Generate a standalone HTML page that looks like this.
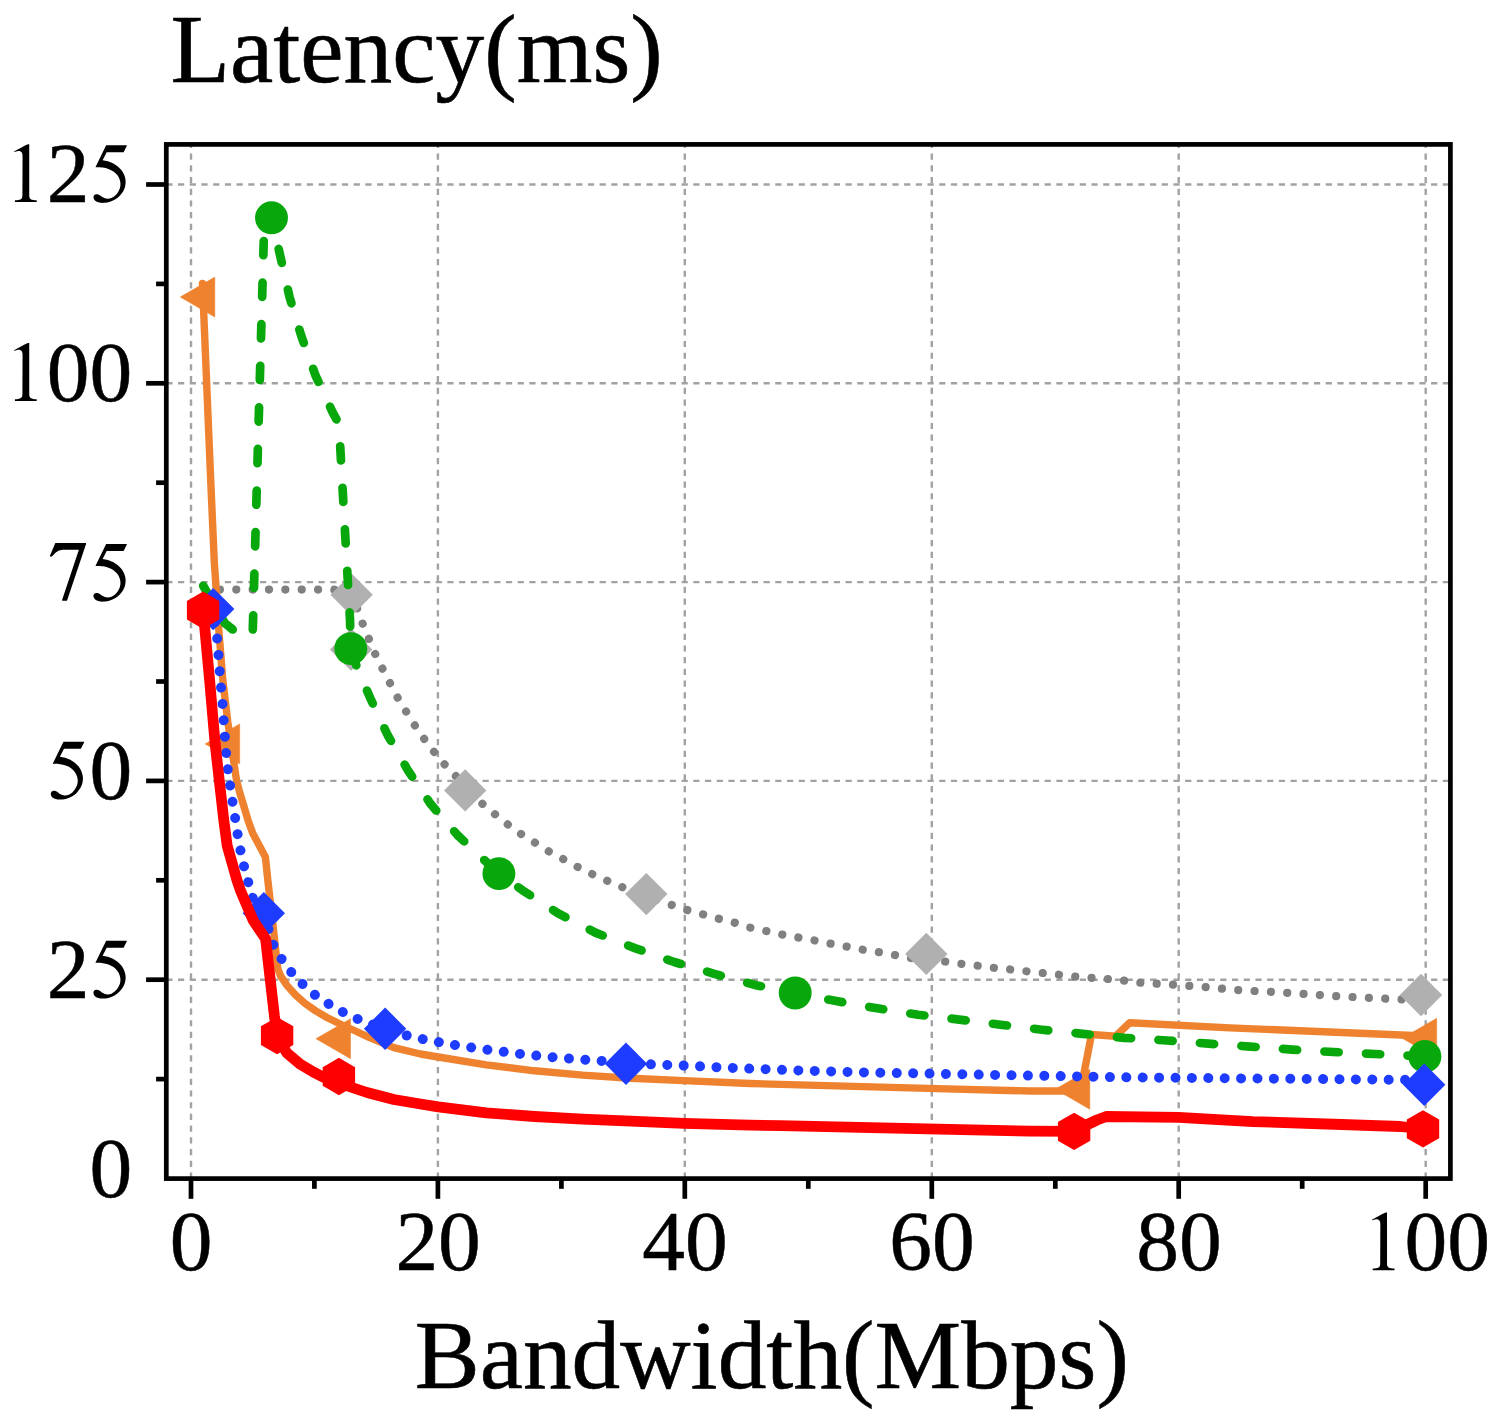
<!DOCTYPE html>
<html><head><meta charset="utf-8"><title>Latency vs Bandwidth</title>
<style>html,body{margin:0;padding:0;background:#fff;}body{width:1495px;height:1424px;overflow:hidden;}svg{display:block;}text{font-family:"Liberation Serif",serif;fill:#000;}</style>
</head><body>
<svg width="1495" height="1424" viewBox="0 0 1495 1424">
<rect x="0" y="0" width="1495" height="1424" fill="#ffffff"/>
<g stroke="#a2a2a2" stroke-width="2.4" stroke-dasharray="6.2 5.511" fill="none">
<line x1="191.0" y1="1178.6" x2="191.0" y2="144.4"/>
<line x1="437.9" y1="1178.6" x2="437.9" y2="144.4"/>
<line x1="684.8" y1="1178.6" x2="684.8" y2="144.4"/>
<line x1="931.8" y1="1178.6" x2="931.8" y2="144.4"/>
<line x1="1178.7" y1="1178.6" x2="1178.7" y2="144.4"/>
<line x1="1425.7" y1="1178.6" x2="1425.7" y2="144.4"/>
<line x1="166.3" y1="979.7" x2="1450.4" y2="979.7"/>
<line x1="166.3" y1="780.9" x2="1450.4" y2="780.9"/>
<line x1="166.3" y1="582.1" x2="1450.4" y2="582.1"/>
<line x1="166.3" y1="383.3" x2="1450.4" y2="383.3"/>
<line x1="166.3" y1="184.5" x2="1450.4" y2="184.5"/>
</g>
<g fill="none" stroke-linejoin="round">
<path d="M203.7 589.6 L333.8 589.6 L351.2 594.0" stroke-dasharray="0.01 16.35" stroke-dashoffset="0.14" stroke="#808080" stroke-width="8.2" stroke-linecap="round"/>
<path d="M351.2 594.0 L357.4 609.1 L362.7 623.8 L369.0 639.2 L375.4 654.4 L382.7 669.1 L390.1 683.3 L397.6 697.6 L406.3 711.8 L415.1 725.9 L424.9 739.9 L435.0 753.1 L445.2 765.2 L456.0 776.3 L465.2 786.0" stroke-dasharray="0.01 16.35" stroke-dashoffset="0.87" stroke="#808080" stroke-width="8.2" stroke-linecap="round"/>
<path d="M465.2 786.0 L480.6 802.2 L493.4 813.0 L506.1 823.2 L519.9 833.3 L534.7 842.5 L548.8 851.4 L563.6 859.2 L577.9 867.1 L593.2 874.6 L608.8 881.4 L624.6 888.1 L646.3 896.5" stroke-dasharray="0.01 16.35" stroke-dashoffset="7.94" stroke="#808080" stroke-width="8.2" stroke-linecap="round"/>
<path d="M646.3 896.5 L670.8 904.7 L686.0 909.7 L702.2 914.1 L718.0 918.5 L733.9 922.5 L750.1 927.6 L765.9 931.0 L782.3 934.6 L798.4 937.5 L814.4 940.4 L830.4 943.6 L846.8 946.6 L862.8 949.7 L879.0 952.1 L895.3 955.1 L910.6 958.0 L926.3 959.5" stroke-dasharray="0.01 16.35" stroke-dashoffset="5.89" stroke="#808080" stroke-width="8.2" stroke-linecap="round"/>
<path d="M926.3 959.5 L944.3 961.4 L960.5 963.8 L976.8 965.6 L993.1 967.7 L1009.3 969.4 L1025.8 971.2 L1041.7 972.9 L1058.2 974.6 L1074.4 976.6 L1090.9 977.8 L1106.9 978.9 L1124.1 980.6 L1139.8 982.7 L1173.0 984.7 L1205.7 987.1 L1238.1 990.1 L1287.3 992.8 L1336.4 996.2 L1385.6 998.7 L1401.6 999.4 L1421.0 1000.5" stroke-dasharray="0.01 16.35" stroke-dashoffset="13.70" stroke="#808080" stroke-width="8.2" stroke-linecap="round"/>
</g>
<g fill="#b0b0b0">
<polygon points="351.6,573.6 372.8,594.8 351.6,616.0 330.4,594.8"/>
<polygon points="351.1,628.3 372.3,649.5 351.1,670.7 329.9,649.5"/>
<polygon points="465.2,769.2 486.4,790.4 465.2,811.6 444.0,790.4"/>
<polygon points="646.3,872.9 667.5,894.1 646.3,915.3 625.1,894.1"/>
<polygon points="926.3,932.7 947.5,953.9 926.3,975.1 905.1,953.9"/>
<polygon points="1421.0,973.8 1442.2,995.0 1421.0,1016.2 1399.8,995.0"/>
</g>
<path d="M202.5 283.5 L210.7 480.0 L214.2 560.0 L218.7 628.5 L222.8 680.0 L227.8 722.0 L234.1 764.3 L236.6 780.6 L239.7 792.4 L248.1 820.4 L252.6 833.1 L265.4 857.0 L267.8 880.0 L273.7 931.6 L277.1 963.2 L277.8 968.8 L280.6 975.9 L286.9 985.4 L295.3 994.8 L304.8 1003.3 L315.3 1010.6 L326.9 1017.5 L339.6 1023.8 L355.4 1031.0 L368.5 1037.2 L393.8 1047.6 L420.5 1054.0 L438.2 1057.0 L486.3 1064.8 L534.5 1070.8 L582.6 1075.1 L630.8 1078.2 L683.8 1080.6 L750.0 1083.5 L927.5 1088.4 L1030.0 1091.0 L1080.5 1091.0 L1091.5 1034.5 L1115.6 1036.2 L1129.7 1022.8 L1230.0 1027.9 L1425.0 1036.0" fill="none" stroke="#ee822f" stroke-width="7.4" stroke-linejoin="round" stroke-linecap="round"/>
<g fill="#ee822f" stroke="#ee822f" stroke-width="0.5" stroke-linejoin="round">
<polygon points="180.2,297.1 214.8,277.1 214.8,317.1"/>
<polygon points="205.1,743.9 239.7,723.9 239.7,763.9"/>
<polygon points="315.9,1038.7 350.5,1018.7 350.5,1058.7"/>
<polygon points="1055.2,1089.3 1089.8,1069.3 1089.8,1109.3"/>
<polygon points="1402.1,1038.2 1436.7,1018.2 1436.7,1058.2"/>
</g>
<path d="M203.2 585.8 L224.8 623.2 L232.7 629.5 L252.6 636.5" stroke-dasharray="14.2 27.4" stroke-dashoffset="2.49" fill="none" stroke="#08a80c" stroke-width="8.7" stroke-linejoin="round" stroke-linecap="round"/>
<path d="M252.6 636.5 L264.2 224.0 L271.5 217.8" stroke-dasharray="14.2 27.4" stroke-dashoffset="34.59" fill="none" stroke="#08a80c" stroke-width="8.7" stroke-linejoin="round" stroke-linecap="round"/>
<path d="M271.5 217.8 L280.3 256.2 L289.6 297.2 L301.4 336.3 L315.6 375.7 L332.9 412.8 L339.0 424.0" stroke-dasharray="14.2 27.4" stroke-dashoffset="9.62" fill="none" stroke="#08a80c" stroke-width="8.7" stroke-linejoin="round" stroke-linecap="round"/>
<path d="M339.0 424.0 L340.6 453.8 L350.0 619.6 L350.8 648.6" stroke-dasharray="14.2 27.4" stroke-dashoffset="19.33" fill="none" stroke="#08a80c" stroke-width="8.7" stroke-linejoin="round" stroke-linecap="round"/>
<path d="M350.8 648.6 L356.7 666.5 L369.9 697.4 L387.6 735.0 L408.2 770.8 L430.8 804.2 L457.4 835.0 L498.9 873.6" stroke-dasharray="14.2 27.4" stroke-dashoffset="38.19" fill="none" stroke="#08a80c" stroke-width="8.7" stroke-linejoin="round" stroke-linecap="round"/>
<path d="M498.9 873.6 L522.5 890.3 L558.2 913.4 L595.3 932.6 L634.8 948.1 L674.2 962.0 L714.3 973.8 L754.8 984.9 L795.2 993.0" stroke-dasharray="14.2 27.4" stroke-dashoffset="17.86" fill="none" stroke="#08a80c" stroke-width="8.7" stroke-linejoin="round" stroke-linecap="round"/>
<path d="M795.2 993.0 L836.3 1001.1 L877.1 1008.3 L918.1 1014.7 L959.2 1019.6 L1000.4 1024.7 L1041.7 1029.7 L1082.8 1033.8 L1124.0 1037.8 L1166.9 1040.5 L1208.6 1043.7 L1250.4 1046.6 L1292.2 1049.6 L1333.2 1052.0 L1374.5 1054.0 L1424.9 1056.4" stroke-dasharray="14.2 27.4" stroke-dashoffset="7.88" fill="none" stroke="#08a80c" stroke-width="8.7" stroke-linejoin="round" stroke-linecap="round"/>
<g fill="#08a80c">
<circle cx="271.5" cy="217.8" r="16.45"/>
<circle cx="350.8" cy="648.6" r="16.45"/>
<circle cx="498.9" cy="873.6" r="16.45"/>
<circle cx="795.2" cy="993.0" r="16.45"/>
<circle cx="1424.9" cy="1056.4" r="16.45"/>
</g>
<path d="M213.2 609.1 L217.2 638.5 L218.5 655.1 L219.7 671.5 L221.1 688.0 L222.6 704.2 L223.7 720.4 L224.9 736.9 L226.1 753.0 L227.8 769.5 L230.1 785.6 L232.5 801.9 L235.2 818.3 L237.6 834.1 L240.6 851.0 L244.0 866.3 L248.2 882.1 L252.2 897.1 L263.8 913.2" stroke-dasharray="0.01 16.39" stroke-dashoffset="3.09" fill="none" stroke="#1e3cff" stroke-width="10" stroke-linejoin="round" stroke-linecap="round"/>
<path d="M263.8 913.2 L272.8 943.6 L280.0 956.7 L290.3 971.1 L301.9 983.4 L314.9 994.8 L329.5 1004.5 L344.4 1012.9 L359.8 1019.9 L385.1 1028.7" stroke-dasharray="0.01 16.39" stroke-dashoffset="16.25" fill="none" stroke="#1e3cff" stroke-width="10" stroke-linejoin="round" stroke-linecap="round"/>
<path d="M385.1 1028.7 L406.4 1035.4 L422.5 1039.0 L438.9 1042.1 L454.5 1045.0 L471.1 1047.4 L487.5 1049.8 L503.7 1051.8 L520.0 1053.9 L536.4 1055.6 L553.0 1057.3 L568.7 1058.5 L585.0 1059.7 L601.4 1060.9 L626.0 1063.8" stroke-dasharray="0.01 16.39" stroke-dashoffset="10.15" fill="none" stroke="#1e3cff" stroke-width="10" stroke-linejoin="round" stroke-linecap="round"/>
<path d="M626.0 1063.8 L650.5 1064.3 L683.8 1065.5 L716.3 1067.2 L748.8 1068.6 L798.4 1070.4 L863.6 1072.4 L929.4 1073.6 L995.0 1074.9 L1060.2 1076.1 L1124.0 1077.3 L1230.0 1078.3 L1404.8 1079.8 L1424.2 1084.7" stroke-dasharray="0.01 16.39" stroke-dashoffset="7.90" fill="none" stroke="#1e3cff" stroke-width="10" stroke-linejoin="round" stroke-linecap="round"/>
<g fill="#1e3cff">
<polygon points="213.2,587.9 234.4,609.1 213.2,630.3 192.0,609.1"/>
<polygon points="263.8,892.0 285.0,913.2 263.8,934.4 242.6,913.2"/>
<polygon points="385.1,1007.5 406.3,1028.7 385.1,1049.9 363.9,1028.7"/>
<polygon points="626.0,1042.6 647.2,1063.8 626.0,1085.0 604.8,1063.8"/>
<polygon points="1424.2,1063.5 1445.4,1084.7 1424.2,1105.9 1403.0,1084.7"/>
</g>
<path d="M203.1 610.3 L209.6 680.0 L215.1 743.2 L219.3 780.6 L223.8 820.4 L227.2 845.7 L236.9 880.0 L240.4 890.4 L253.1 920.2 L265.6 938.8 L274.4 1015.9 L277.1 1035.6 L286.8 1052.8 L300.1 1064.2 L313.5 1072.2 L322.9 1076.9 L338.8 1083.0 L355.0 1088.5 L367.0 1092.5 L393.8 1099.5 L420.5 1104.0 L438.2 1106.9 L486.3 1112.9 L534.5 1116.5 L582.6 1119.2 L630.8 1121.1 L683.8 1123.3 L750.0 1125.2 L780.0 1125.7 L1030.0 1131.1 L1074.1 1131.4 L1087.5 1124.5 L1097.0 1120.0 L1106.3 1116.5 L1178.5 1117.3 L1252.9 1121.6 L1326.6 1124.0 L1400.3 1126.5 L1423.0 1128.9" fill="none" stroke="#ff0000" stroke-width="10.8" stroke-linejoin="round" stroke-linecap="butt"/>
<g fill="#ff0000">
<polygon points="203.1,591.6 186.9,600.9 186.9,619.6 203.1,629.0 219.3,619.6 219.3,600.9"/>
<polygon points="277.1,1016.9 260.9,1026.2 260.9,1044.9 277.1,1054.3 293.3,1044.9 293.3,1026.2"/>
<polygon points="338.9,1057.8 322.7,1067.2 322.7,1085.8 338.9,1095.2 355.1,1085.8 355.1,1067.2"/>
<polygon points="1074.1,1112.7 1057.9,1122.1 1057.9,1140.8 1074.1,1150.1 1090.3,1140.8 1090.3,1122.1"/>
<polygon points="1423.0,1110.2 1406.8,1119.6 1406.8,1138.2 1423.0,1147.6 1439.2,1138.2 1439.2,1119.6"/>
</g>
<rect x="166.3" y="144.4" width="1284.1" height="1034.2" fill="none" stroke="#000" stroke-width="4.7"/>
<g stroke="#000" stroke-width="4.7" fill="none">
<line x1="191.0" y1="1178.6" x2="191.0" y2="1198.8"/>
<line x1="437.9" y1="1178.6" x2="437.9" y2="1198.8"/>
<line x1="684.8" y1="1178.6" x2="684.8" y2="1198.8"/>
<line x1="931.8" y1="1178.6" x2="931.8" y2="1198.8"/>
<line x1="1178.7" y1="1178.6" x2="1178.7" y2="1198.8"/>
<line x1="1425.7" y1="1178.6" x2="1425.7" y2="1198.8"/>
<line x1="314.4" y1="1178.6" x2="314.4" y2="1188.8"/>
<line x1="561.4" y1="1178.6" x2="561.4" y2="1188.8"/>
<line x1="808.3" y1="1178.6" x2="808.3" y2="1188.8"/>
<line x1="1055.3" y1="1178.6" x2="1055.3" y2="1188.8"/>
<line x1="1302.2" y1="1178.6" x2="1302.2" y2="1188.8"/>
<line x1="166.3" y1="979.7" x2="146.1" y2="979.7"/>
<line x1="166.3" y1="780.9" x2="146.1" y2="780.9"/>
<line x1="166.3" y1="582.1" x2="146.1" y2="582.1"/>
<line x1="166.3" y1="383.3" x2="146.1" y2="383.3"/>
<line x1="166.3" y1="184.5" x2="146.1" y2="184.5"/>
<line x1="166.3" y1="1079.1" x2="156.1" y2="1079.1"/>
<line x1="166.3" y1="880.3" x2="156.1" y2="880.3"/>
<line x1="166.3" y1="681.5" x2="156.1" y2="681.5"/>
<line x1="166.3" y1="482.7" x2="156.1" y2="482.7"/>
<line x1="166.3" y1="283.9" x2="156.1" y2="283.9"/>
</g>
<g font-size="85.5px" fill="#000">
<text x="89.45" y="1196.90" stroke="#000" stroke-width="0.5" stroke-linejoin="round">0</text>
<text x="46.75" y="997.64" stroke="#000" stroke-width="0.5" stroke-linejoin="round">2</text>
<path transform="translate(89.60 997.64)" d="M16.55 -56.83 L37.03 -56.83 L37.28 -56.32 L33.99 -49.90 L17.06 -49.90 L13.01 -41.81 C14.78 -41.51 16.59 -41.39 18.32 -40.90 C20.05 -40.41 21.78 -39.72 23.38 -38.88 C24.98 -38.04 26.49 -37.02 27.93 -35.84 C29.36 -34.66 30.83 -33.32 31.97 -31.80 C33.11 -30.28 34.08 -28.51 34.75 -26.74 C35.43 -24.97 35.89 -23.04 36.02 -21.18 C36.14 -19.33 35.93 -17.39 35.51 -15.62 C35.09 -13.85 34.42 -12.17 33.49 -10.57 C32.56 -8.97 31.30 -7.36 29.95 -6.02 C28.60 -4.67 27.00 -3.45 25.40 -2.48 C23.80 -1.51 22.03 -0.75 20.34 -0.20 C18.66 0.35 16.89 0.64 15.29 0.81 C13.69 0.98 12.09 0.98 10.74 0.81 C9.39 0.64 8.17 0.26 7.20 -0.20 C6.23 -0.67 5.47 -1.30 4.92 -1.97 C4.38 -2.65 4.04 -3.53 3.91 -4.25 C3.79 -4.96 3.87 -5.72 4.17 -6.27 C4.46 -6.82 5.09 -7.28 5.68 -7.53 C6.27 -7.79 7.03 -7.87 7.70 -7.79 C8.38 -7.70 8.97 -7.45 9.73 -7.03 C10.49 -6.61 11.33 -5.81 12.25 -5.26 C13.18 -4.71 14.28 -4.08 15.29 -3.74 C16.30 -3.40 17.23 -3.19 18.32 -3.24 C19.42 -3.28 20.68 -3.49 21.86 -3.99 C23.04 -4.50 24.35 -5.34 25.40 -6.27 C26.45 -7.20 27.38 -8.33 28.18 -9.56 C28.98 -10.78 29.76 -12.17 30.20 -13.60 C30.65 -15.03 30.90 -16.63 30.86 -18.15 C30.82 -19.67 30.48 -21.23 29.95 -22.70 C29.42 -24.17 28.69 -25.69 27.67 -27.00 C26.66 -28.30 25.36 -29.52 23.88 -30.54 C22.41 -31.55 20.60 -32.41 18.83 -33.06 C17.06 -33.71 15.04 -34.13 13.27 -34.43 C11.50 -34.72 9.39 -34.78 8.21 -34.83 C7.03 -34.88 6.86 -34.77 6.19 -34.73 L5.94 -35.09 L16.55 -56.83Z"/>
<path transform="translate(46.90 798.65)" d="M16.55 -56.83 L37.03 -56.83 L37.28 -56.32 L33.99 -49.90 L17.06 -49.90 L13.01 -41.81 C14.78 -41.51 16.59 -41.39 18.32 -40.90 C20.05 -40.41 21.78 -39.72 23.38 -38.88 C24.98 -38.04 26.49 -37.02 27.93 -35.84 C29.36 -34.66 30.83 -33.32 31.97 -31.80 C33.11 -30.28 34.08 -28.51 34.75 -26.74 C35.43 -24.97 35.89 -23.04 36.02 -21.18 C36.14 -19.33 35.93 -17.39 35.51 -15.62 C35.09 -13.85 34.42 -12.17 33.49 -10.57 C32.56 -8.97 31.30 -7.36 29.95 -6.02 C28.60 -4.67 27.00 -3.45 25.40 -2.48 C23.80 -1.51 22.03 -0.75 20.34 -0.20 C18.66 0.35 16.89 0.64 15.29 0.81 C13.69 0.98 12.09 0.98 10.74 0.81 C9.39 0.64 8.17 0.26 7.20 -0.20 C6.23 -0.67 5.47 -1.30 4.92 -1.97 C4.38 -2.65 4.04 -3.53 3.91 -4.25 C3.79 -4.96 3.87 -5.72 4.17 -6.27 C4.46 -6.82 5.09 -7.28 5.68 -7.53 C6.27 -7.79 7.03 -7.87 7.70 -7.79 C8.38 -7.70 8.97 -7.45 9.73 -7.03 C10.49 -6.61 11.33 -5.81 12.25 -5.26 C13.18 -4.71 14.28 -4.08 15.29 -3.74 C16.30 -3.40 17.23 -3.19 18.32 -3.24 C19.42 -3.28 20.68 -3.49 21.86 -3.99 C23.04 -4.50 24.35 -5.34 25.40 -6.27 C26.45 -7.20 27.38 -8.33 28.18 -9.56 C28.98 -10.78 29.76 -12.17 30.20 -13.60 C30.65 -15.03 30.90 -16.63 30.86 -18.15 C30.82 -19.67 30.48 -21.23 29.95 -22.70 C29.42 -24.17 28.69 -25.69 27.67 -27.00 C26.66 -28.30 25.36 -29.52 23.88 -30.54 C22.41 -31.55 20.60 -32.41 18.83 -33.06 C17.06 -33.71 15.04 -34.13 13.27 -34.43 C11.50 -34.72 9.39 -34.78 8.21 -34.83 C7.03 -34.88 6.86 -34.77 6.19 -34.73 L5.94 -35.09 L16.55 -56.83Z"/>
<text x="89.45" y="798.65" stroke="#000" stroke-width="0.5" stroke-linejoin="round">0</text>
<path transform="translate(46.90 600.80)" d="M8.46 -57.89 L39.05 -57.89 L39.15 -56.88 L20.09 0.00 L15.29 0.00 L15.19 -0.76 L31.97 -50.96 C27.42 -50.96 21.19 -50.99 18.32 -50.96 C15.46 -50.94 15.88 -50.96 14.78 -50.81 C13.69 -50.66 12.68 -50.43 11.75 -50.05 C10.82 -49.67 10.02 -49.17 9.22 -48.53 C8.42 -47.90 7.66 -46.98 6.95 -46.26 C6.23 -45.54 5.60 -44.91 4.92 -44.24 C4.42 -44.24 3.74 -44.15 3.41 -44.24 C3.07 -44.32 3.07 -44.57 2.90 -44.74 L8.46 -57.89Z"/>
<path transform="translate(89.60 600.80)" d="M16.55 -56.83 L37.03 -56.83 L37.28 -56.32 L33.99 -49.90 L17.06 -49.90 L13.01 -41.81 C14.78 -41.51 16.59 -41.39 18.32 -40.90 C20.05 -40.41 21.78 -39.72 23.38 -38.88 C24.98 -38.04 26.49 -37.02 27.93 -35.84 C29.36 -34.66 30.83 -33.32 31.97 -31.80 C33.11 -30.28 34.08 -28.51 34.75 -26.74 C35.43 -24.97 35.89 -23.04 36.02 -21.18 C36.14 -19.33 35.93 -17.39 35.51 -15.62 C35.09 -13.85 34.42 -12.17 33.49 -10.57 C32.56 -8.97 31.30 -7.36 29.95 -6.02 C28.60 -4.67 27.00 -3.45 25.40 -2.48 C23.80 -1.51 22.03 -0.75 20.34 -0.20 C18.66 0.35 16.89 0.64 15.29 0.81 C13.69 0.98 12.09 0.98 10.74 0.81 C9.39 0.64 8.17 0.26 7.20 -0.20 C6.23 -0.67 5.47 -1.30 4.92 -1.97 C4.38 -2.65 4.04 -3.53 3.91 -4.25 C3.79 -4.96 3.87 -5.72 4.17 -6.27 C4.46 -6.82 5.09 -7.28 5.68 -7.53 C6.27 -7.79 7.03 -7.87 7.70 -7.79 C8.38 -7.70 8.97 -7.45 9.73 -7.03 C10.49 -6.61 11.33 -5.81 12.25 -5.26 C13.18 -4.71 14.28 -4.08 15.29 -3.74 C16.30 -3.40 17.23 -3.19 18.32 -3.24 C19.42 -3.28 20.68 -3.49 21.86 -3.99 C23.04 -4.50 24.35 -5.34 25.40 -6.27 C26.45 -7.20 27.38 -8.33 28.18 -9.56 C28.98 -10.78 29.76 -12.17 30.20 -13.60 C30.65 -15.03 30.90 -16.63 30.86 -18.15 C30.82 -19.67 30.48 -21.23 29.95 -22.70 C29.42 -24.17 28.69 -25.69 27.67 -27.00 C26.66 -28.30 25.36 -29.52 23.88 -30.54 C22.41 -31.55 20.60 -32.41 18.83 -33.06 C17.06 -33.71 15.04 -34.13 13.27 -34.43 C11.50 -34.72 9.39 -34.78 8.21 -34.83 C7.03 -34.88 6.86 -34.77 6.19 -34.73 L5.94 -35.09 L16.55 -56.83Z"/>
<path transform="translate(4.20 400.90)" d="M9.77 -50.56 C11.15 -51.31 12.38 -51.99 13.91 -52.83 C15.45 -53.67 17.33 -54.77 18.97 -55.61 C20.61 -56.45 22.17 -57.13 23.77 -57.89 L25.04 -57.89 L25.04 -6.83 C25.12 -6.07 25.04 -5.22 25.29 -4.55 C25.54 -3.88 25.92 -3.20 26.55 -2.78 C27.18 -2.36 28.11 -2.19 29.08 -2.02 C30.05 -1.85 31.27 -1.85 32.37 -1.77 C32.45 -1.52 32.62 -1.31 32.62 -1.01 C32.62 -0.72 32.45 -0.34 32.37 0.00 L10.88 0.00 C10.80 -0.34 10.63 -0.72 10.63 -1.01 C10.63 -1.31 10.80 -1.52 10.88 -1.77 C11.89 -1.85 12.94 -1.85 13.91 -2.02 C14.88 -2.19 16.02 -2.36 16.69 -2.78 C17.37 -3.20 17.70 -3.88 17.96 -4.55 C18.21 -5.22 18.13 -6.07 18.21 -6.83 L18.36 -44.74 C18.31 -45.75 18.36 -46.93 18.21 -47.78 C18.06 -48.62 17.83 -49.28 17.45 -49.80 C17.07 -50.32 16.48 -50.70 15.94 -50.91 C15.39 -51.12 14.84 -51.12 14.17 -51.06 C13.49 -51.00 12.52 -50.74 11.89 -50.56 C11.26 -50.37 10.88 -50.15 10.37 -49.95 L9.77 -50.56Z"/>
<text x="46.75" y="400.90" stroke="#000" stroke-width="0.5" stroke-linejoin="round">0</text>
<text x="89.45" y="400.90" stroke="#000" stroke-width="0.5" stroke-linejoin="round">0</text>
<path transform="translate(4.20 202.04)" d="M9.77 -50.56 C11.15 -51.31 12.38 -51.99 13.91 -52.83 C15.45 -53.67 17.33 -54.77 18.97 -55.61 C20.61 -56.45 22.17 -57.13 23.77 -57.89 L25.04 -57.89 L25.04 -6.83 C25.12 -6.07 25.04 -5.22 25.29 -4.55 C25.54 -3.88 25.92 -3.20 26.55 -2.78 C27.18 -2.36 28.11 -2.19 29.08 -2.02 C30.05 -1.85 31.27 -1.85 32.37 -1.77 C32.45 -1.52 32.62 -1.31 32.62 -1.01 C32.62 -0.72 32.45 -0.34 32.37 0.00 L10.88 0.00 C10.80 -0.34 10.63 -0.72 10.63 -1.01 C10.63 -1.31 10.80 -1.52 10.88 -1.77 C11.89 -1.85 12.94 -1.85 13.91 -2.02 C14.88 -2.19 16.02 -2.36 16.69 -2.78 C17.37 -3.20 17.70 -3.88 17.96 -4.55 C18.21 -5.22 18.13 -6.07 18.21 -6.83 L18.36 -44.74 C18.31 -45.75 18.36 -46.93 18.21 -47.78 C18.06 -48.62 17.83 -49.28 17.45 -49.80 C17.07 -50.32 16.48 -50.70 15.94 -50.91 C15.39 -51.12 14.84 -51.12 14.17 -51.06 C13.49 -51.00 12.52 -50.74 11.89 -50.56 C11.26 -50.37 10.88 -50.15 10.37 -49.95 L9.77 -50.56Z"/>
<text x="46.75" y="202.04" stroke="#000" stroke-width="0.5" stroke-linejoin="round">2</text>
<path transform="translate(89.60 202.04)" d="M16.55 -56.83 L37.03 -56.83 L37.28 -56.32 L33.99 -49.90 L17.06 -49.90 L13.01 -41.81 C14.78 -41.51 16.59 -41.39 18.32 -40.90 C20.05 -40.41 21.78 -39.72 23.38 -38.88 C24.98 -38.04 26.49 -37.02 27.93 -35.84 C29.36 -34.66 30.83 -33.32 31.97 -31.80 C33.11 -30.28 34.08 -28.51 34.75 -26.74 C35.43 -24.97 35.89 -23.04 36.02 -21.18 C36.14 -19.33 35.93 -17.39 35.51 -15.62 C35.09 -13.85 34.42 -12.17 33.49 -10.57 C32.56 -8.97 31.30 -7.36 29.95 -6.02 C28.60 -4.67 27.00 -3.45 25.40 -2.48 C23.80 -1.51 22.03 -0.75 20.34 -0.20 C18.66 0.35 16.89 0.64 15.29 0.81 C13.69 0.98 12.09 0.98 10.74 0.81 C9.39 0.64 8.17 0.26 7.20 -0.20 C6.23 -0.67 5.47 -1.30 4.92 -1.97 C4.38 -2.65 4.04 -3.53 3.91 -4.25 C3.79 -4.96 3.87 -5.72 4.17 -6.27 C4.46 -6.82 5.09 -7.28 5.68 -7.53 C6.27 -7.79 7.03 -7.87 7.70 -7.79 C8.38 -7.70 8.97 -7.45 9.73 -7.03 C10.49 -6.61 11.33 -5.81 12.25 -5.26 C13.18 -4.71 14.28 -4.08 15.29 -3.74 C16.30 -3.40 17.23 -3.19 18.32 -3.24 C19.42 -3.28 20.68 -3.49 21.86 -3.99 C23.04 -4.50 24.35 -5.34 25.40 -6.27 C26.45 -7.20 27.38 -8.33 28.18 -9.56 C28.98 -10.78 29.76 -12.17 30.20 -13.60 C30.65 -15.03 30.90 -16.63 30.86 -18.15 C30.82 -19.67 30.48 -21.23 29.95 -22.70 C29.42 -24.17 28.69 -25.69 27.67 -27.00 C26.66 -28.30 25.36 -29.52 23.88 -30.54 C22.41 -31.55 20.60 -32.41 18.83 -33.06 C17.06 -33.71 15.04 -34.13 13.27 -34.43 C11.50 -34.72 9.39 -34.78 8.21 -34.83 C7.03 -34.88 6.86 -34.77 6.19 -34.73 L5.94 -35.09 L16.55 -56.83Z"/>
<text x="169.81" y="1270.30" stroke="#000" stroke-width="0.5" stroke-linejoin="round">0</text>
<text x="395.40" y="1270.30" stroke="#000" stroke-width="0.5" stroke-linejoin="round">2</text>
<text x="438.10" y="1270.30" stroke="#000" stroke-width="0.5" stroke-linejoin="round">0</text>
<text x="642.35" y="1270.30" stroke="#000" stroke-width="0.5" stroke-linejoin="round">4</text>
<text x="685.05" y="1270.30" stroke="#000" stroke-width="0.5" stroke-linejoin="round">0</text>
<text x="889.29" y="1270.30" stroke="#000" stroke-width="0.5" stroke-linejoin="round">6</text>
<text x="931.99" y="1270.30" stroke="#000" stroke-width="0.5" stroke-linejoin="round">0</text>
<text x="1136.24" y="1270.30" stroke="#000" stroke-width="0.5" stroke-linejoin="round">8</text>
<text x="1178.94" y="1270.30" stroke="#000" stroke-width="0.5" stroke-linejoin="round">0</text>
<path transform="translate(1361.98 1270.30)" d="M9.77 -50.56 C11.15 -51.31 12.38 -51.99 13.91 -52.83 C15.45 -53.67 17.33 -54.77 18.97 -55.61 C20.61 -56.45 22.17 -57.13 23.77 -57.89 L25.04 -57.89 L25.04 -6.83 C25.12 -6.07 25.04 -5.22 25.29 -4.55 C25.54 -3.88 25.92 -3.20 26.55 -2.78 C27.18 -2.36 28.11 -2.19 29.08 -2.02 C30.05 -1.85 31.27 -1.85 32.37 -1.77 C32.45 -1.52 32.62 -1.31 32.62 -1.01 C32.62 -0.72 32.45 -0.34 32.37 0.00 L10.88 0.00 C10.80 -0.34 10.63 -0.72 10.63 -1.01 C10.63 -1.31 10.80 -1.52 10.88 -1.77 C11.89 -1.85 12.94 -1.85 13.91 -2.02 C14.88 -2.19 16.02 -2.36 16.69 -2.78 C17.37 -3.20 17.70 -3.88 17.96 -4.55 C18.21 -5.22 18.13 -6.07 18.21 -6.83 L18.36 -44.74 C18.31 -45.75 18.36 -46.93 18.21 -47.78 C18.06 -48.62 17.83 -49.28 17.45 -49.80 C17.07 -50.32 16.48 -50.70 15.94 -50.91 C15.39 -51.12 14.84 -51.12 14.17 -51.06 C13.49 -51.00 12.52 -50.74 11.89 -50.56 C11.26 -50.37 10.88 -50.15 10.37 -49.95 L9.77 -50.56Z"/>
<text x="1404.53" y="1270.30" stroke="#000" stroke-width="0.5" stroke-linejoin="round">0</text>
<text x="1447.23" y="1270.30" stroke="#000" stroke-width="0.5" stroke-linejoin="round">0</text>
</g>
<text x="170.6" y="81.7" font-size="97.4px" stroke="#000" stroke-width="0.6" stroke-linejoin="round">Latency(ms)</text>
<text x="771.8" y="1387.8" font-size="97.4px" text-anchor="middle" stroke="#000" stroke-width="0.6" stroke-linejoin="round">Bandwidth(Mbps)</text>
</svg></body></html>
